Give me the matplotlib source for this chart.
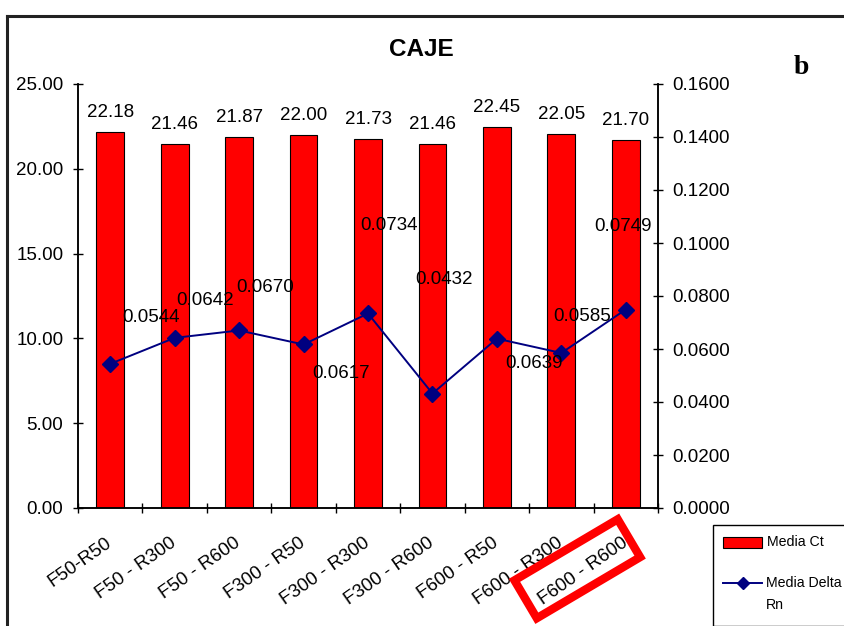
import matplotlib
matplotlib.use("Agg")
import matplotlib.pyplot as plt
from matplotlib.lines import Line2D
from matplotlib.patches import Rectangle, Polygon
from matplotlib.ticker import FormatStrFormatter, FixedLocator
import numpy as np

categories = ["F50-R50", "F50 - R300", "F50 - R600", "F300 - R50", "F300 - R300",
              "F300 - R600", "F600 - R50", "F600 - R300", "F600 - R600"]
media_ct = [22.18, 21.46, 21.87, 22.00, 21.73, 21.46, 22.45, 22.05, 21.70]
media_delta_rn = [0.0544, 0.0642, 0.0670, 0.0617, 0.0734, 0.0432, 0.0639, 0.0585, 0.0749]
series_names = ["Media Ct", "Media Delta\nRn"]
title = "CAJE"
panel_tag = "b"
highlight_index = 8

# label offsets (pixels) for the Delta Rn value labels
delta_offsets = [(41, 46), (30, 37), (26, 43), (38, -29), (21, 88),
                 (12, 114), (37, -25), (21, 36), (-3, 83)]

W, H = 844, 626
plt.rcParams['font.family'] = ['Liberation Sans', 'DejaVu Sans']
FS = 13.5

fig = plt.figure(figsize=(W / 100, H / 100), dpi=100)
fig.patch.set_facecolor("white")


def fx(px):
    return px / W


def fy(py):
    return 1 - py / H


ax = fig.add_axes([fx(78), fy(508), (658 - 78) / W, (508 - 84) / H])
x = np.arange(len(categories))
ax.bar(x, media_ct, width=0.43, color="#FF0000", edgecolor="black",
       linewidth=0.8, zorder=2)
for xi, v in zip(x, media_ct):
    ax.annotate(f"{v:.2f}", (xi, v), xytext=(0, 15), textcoords="offset pixels",
                ha="center", va="baseline", fontsize=FS)

ax.set_xlim(-0.5, len(categories) - 0.5)
ax.set_ylim(0, 25)
ax.set_yticks(np.arange(0, 25.01, 5))
ax.yaxis.set_major_formatter(FormatStrFormatter("%.2f"))
ax.set_xticks(x)
ax.set_xticklabels(categories, rotation=35, ha="right", va="center",
                   rotation_mode="anchor", fontsize=13.5)
ax.xaxis.set_minor_locator(FixedLocator(np.arange(-0.5, len(categories), 1.0)))
ax.tick_params(axis="x", which="major", length=0, pad=24)
ax.tick_params(axis="x", which="minor", direction="inout", length=7.2, width=1.0)
ax.tick_params(axis="y", direction="inout", length=7.2, width=1.0, pad=7,
               labelsize=FS)
ax.spines["top"].set_visible(False)
for s in ("left", "bottom", "right"):
    ax.spines[s].set_linewidth(1.1)

ax2 = ax.twinx()
ax2.plot(x, media_delta_rn, color="#000080", lw=1.4, marker="D", markersize=8,
         markerfacecolor="#000080", markeredgecolor="#000080", zorder=3)
for xi, v, (dx, dy) in zip(x, media_delta_rn, delta_offsets):
    ax2.annotate(f"{v:.4f}", (xi, v), xytext=(dx, dy), textcoords="offset pixels",
                 ha="center", va="center", fontsize=FS)
ax2.set_ylim(0, 0.16)
ax2.set_yticks(np.arange(0, 0.1601, 0.02))
ax2.yaxis.set_major_formatter(FormatStrFormatter("%.4f"))
ax2.tick_params(axis="y", direction="inout", length=7.2, width=1.0, pad=7,
                labelsize=FS)
ax2.spines["top"].set_visible(False)
for s in ("left", "bottom", "right"):
    ax2.spines[s].set_linewidth(1.1)

fig.text(fx(421), fy(50), title, ha="center", va="center", fontsize=17.5,
         fontweight="bold")
fig.text(fx(801), fy(67), panel_tag, ha="center", va="center", fontsize=20,
         fontweight="bold", family="Liberation Serif")

# outer frame (top and left edges)
fig.add_artist(Line2D([fx(7), fx(7)], [fy(16), 0], color="#222222", lw=2.2))
fig.add_artist(Line2D([fx(7), 1], [fy(16), fy(16)], color="#222222", lw=2.2))

# legend box
LFS = 10.2
fig.add_artist(Rectangle((fx(713), 0), 1 - fx(713) + 0.01, fy(525),
                         transform=fig.transFigure, facecolor="white",
                         edgecolor="black", lw=1.0))
fig.add_artist(Rectangle((fx(723), fy(548)), (762 - 723) / W, 11 / H,
                         transform=fig.transFigure, facecolor="#FF0000",
                         edgecolor="black", lw=0.8))
fig.text(fx(767), fy(542), series_names[0], ha="left", va="center", fontsize=LFS)
fig.add_artist(Line2D([fx(723), fx(762)], [fy(583), fy(583)], color="#000080",
                      lw=1.4))
fig.add_artist(Line2D([fx(742.5)], [fy(583)], color="#000080", marker="D",
                      markersize=6.5))
name_lines = series_names[1].split("\n")
fig.text(fx(766), fy(583), name_lines[0], ha="left", va="center", fontsize=LFS)
fig.text(fx(766), fy(605), name_lines[1], ha="left", va="center", fontsize=LFS)

# red box around the highlighted category label
tick_disp = ax.transData.transform((highlight_index, 0))
cx, cy = tick_disp[0] - 48.5, tick_disp[1] - 60.75
w_box, h_box, ang = 120, 44, np.deg2rad(30.6)
u = np.array([np.cos(ang), np.sin(ang)])
v = np.array([-np.sin(ang), np.cos(ang)])
c = np.array([cx, cy])
corners = [c - u * w_box / 2 - v * h_box / 2, c + u * w_box / 2 - v * h_box / 2,
           c + u * w_box / 2 + v * h_box / 2, c - u * w_box / 2 + v * h_box / 2]
corners_fig = fig.transFigure.inverted().transform(np.array(corners))
fig.add_artist(Polygon(corners_fig, closed=True, transform=fig.transFigure,
                       fill=False, edgecolor="#FF0000", lw=6, joinstyle="miter"))

fig.savefig("out.png", dpi=100)
